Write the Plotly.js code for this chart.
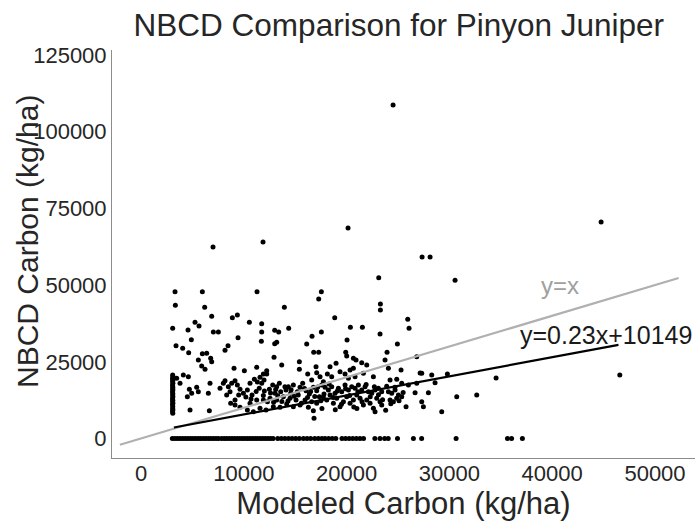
<!DOCTYPE html>
<html><head><meta charset="utf-8">
<script src="https://cdn.plot.ly/plotly-3.0.1.min.js"></script>
<style>html,body{margin:0;padding:0;background:#fff}</style>
</head><body><div id="chart" style="width:698px;height:521px"></div>
<script>
// Modeled carbon (x) and NBCD carbon (y), kg/ha
const modeledCarbon = [
  24520, 7006, 11871, 20141, 27341, 28120, 44758,
  3308, 5968, 11286, 17545, 17286, 3341, 6195, 13945, 6876, 9373,
  8886, 5254, 5643, 10540, 3081, 4573, 11740, 14367, 7038, 7524,
  11740, 13005, 13394, 17545, 16637, 4897, 9438, 11708, 13005, 13200,
  16118, 3406, 4054, 4638, 8465, 8173, 5968, 6389, 16799, 17286,
  23125, 30551, 23287, 23287, 18844, 25946, 26076, 20368, 21536, 23254,
  20044, 24941, 19914, 23935,
  6778, 6876, 5578, 5903, 6227, 9048, 10054, 11254, 12227, 11902,
  12940, 13686, 15405, 15405, 17026, 17091, 16216, 17415, 17740,
  3080, 3100, 3070, 3090, 3080, 3100, 3070, 3090, 3080, 3100, 3070, 3090,
  3080, 3100, 3070, 3090, 3080, 3100, 3070, 3090, 3080, 3100, 3070, 3090,
  3470, 4119, 4606, 3795, 4703, 4930, 5416, 5578, 4508, 4768,
  6714, 6649, 6551, 7686, 8011, 8173, 8497, 8659, 8335, 8821,
  9146, 9373, 9632, 9502, 9146, 8724, 9957, 10346, 10605, 11027,
  11319, 11578, 11740, 11967, 12227, 12486, 12810, 13037, 13200, 13459,
  13589, 13848, 14108, 14335, 14562, 14821, 15080, 15210, 15470, 15729,
  16053, 16378, 16605, 16767, 17091, 17350, 9146, 9632, 10346, 10929,
  11578, 12162, 12875, 13524, 14173, 14821, 15470, 15956, 16281, 16767,
  16832, 12551, 13200, 11902, 11254, 10605, 14497, 16605, 17091,
  10200, 10800, 11200, 11500, 11900, 12300, 12600, 12900, 13300, 13700,
  14000, 14300, 14600, 14900, 15300, 15600, 15900, 16200, 16500, 16900,
  17200, 17500, 10700, 12000, 13100,
  20011, 20660, 20919, 21471, 21957, 23741, 24065, 25297, 26822, 18390,
  18974, 18130, 18552, 19363, 19849, 20336, 20660, 20174, 20822, 21633,
  22606, 24227, 24876, 25362, 26011, 26822, 27308, 28281, 28605, 29805,
  17579, 17903, 18228, 18552, 18876, 19201, 19525, 19849, 20174, 20498,
  20822, 21146, 21471, 21795, 22119, 22444, 22768, 23092, 23417,
  17741, 18066, 18390, 18714, 19039, 19363, 19687, 20011, 20336, 20660,
  20984, 21309, 21633, 21957, 22282, 22606, 22930, 23255, 22768, 23417,
  24065, 24389, 24714, 25038, 25362, 24227, 24551, 24876, 25784, 26660,
  27308, 27470, 27957, 29254, 30713, 32659, 34540, 46575, 27150,
  17800, 18300, 18700, 19100, 19500, 19900, 20300, 20700, 21100, 21500,
  21900, 22300, 22700, 23100, 23500, 23900, 24300, 24700, 25100, 25500,
  17600, 18900, 21000, 23800
];
const nbcdCarbon = [
  108720, 62430, 64060, 68620, 59170, 59170, 70580,
  47860, 47860, 47860, 47860, 45470, 43410, 42760, 42760, 39820, 40255,
  39385, 37864, 36670, 37864, 35907, 35364, 37430, 35907, 34710, 34710,
  34710, 35254, 34710, 34710, 33300, 32210, 32860, 31670, 30907, 31340,
  30800, 30255, 29385, 27970, 30255, 28730, 27645, 27755, 28080, 28080,
  52430, 51560, 43840, 41885, 39385, 38840, 35907, 36234, 36234, 34060,
  32100, 30800, 28080, 28080,
  26133, 25045, 25590, 23633, 22546, 22870, 22110, 23200, 22110, 21024,
  26460, 23960, 25045, 22546, 23415, 21460, 21024, 20154, 18524,
  20700, 20200, 19600, 19000, 18500, 18000, 17400, 16700, 16200, 15800, 15200, 14700,
  14200, 13600, 13000, 12500, 12000, 11500, 11000, 10400, 9800, 9300, 8800, 8200,
  19610, 20698, 20154, 17980, 16023, 14720, 16676, 15263, 13632, 9284,
  17980, 9066, 14720, 16350, 17980, 18850, 16893, 15263, 14176, 17980,
  18850, 17436, 16023, 14176, 12545, 11458, 14720, 15806, 17980, 19284,
  18415, 19936, 17980, 19067, 21024, 16023, 17436, 14720, 16893, 17980,
  15263, 13632, 15806, 16893, 14720, 17436, 12545, 15263, 16676, 17980,
  15589, 14502, 19067, 16676, 15589, 13632, 10915, 10154, 9284, 8740,
  9828, 9284, 10371, 10154, 11240, 10371, 10915, 12545, 10154, 9066,
  6566, 13090, 12545, 12545, 12545, 11458, 13090, 12000, 11458,
  13500, 14200, 15300, 16400, 14000, 12000, 14800, 11800, 13900, 12100,
  16900, 12200, 15900, 13800, 14200, 11500, 16300, 13400, 15300, 13700,
  16800, 12300, 12900, 15500, 16000,
  26893, 26133, 25590, 24720, 23960, 25590, 22870, 22330, 26676, 23415,
  24502, 21024, 20154, 21785, 21024, 22330, 22870, 19610, 20154, 21240,
  20154, 19067, 19284, 17980, 17436, 17980, 21240, 20698, 18197, 21024,
  17436, 16676, 15806, 16893, 14720, 16350, 15263, 17436, 15806, 16893,
  16350, 17436, 15806, 16893, 15263, 14720, 15806, 16350, 15263,
  13632, 12545, 14176, 11458, 13090, 10371, 12000, 13632, 11458, 12545,
  14176, 13090, 10915, 12545, 11458, 9828, 13090, 12000, 8740, 10915,
  15263, 14720, 15806, 14176, 13632, 12545, 12000, 13090, 10371, 14937,
  12000, 10371, 14937, 8740, 13632, 14176, 19720, 20700, 21350,
  14500, 17800, 13400, 15500, 11200, 16200, 14000, 10300, 15200, 12000,
  17600, 13600, 16900, 14300, 12600, 17000, 11300, 16700, 12300, 15000,
  9800, 9400, 9800, 9200
];
// Plots where NBCD reports zero carbon
const zeroRowModeled = [
  3050, 3300, 3550, 3800, 4050, 4300, 4550, 4800, 5050, 5300,
  5550, 5800, 6050, 6300, 6550, 6800, 7050, 7300, 7550, 7850,
  8100, 8350, 8600, 8850, 9100, 9350, 9600, 9850, 10100, 10350,
  10600, 10850, 11100, 11350, 11600, 11850, 12100, 12350, 12600, 12850,
  13300, 13650, 14000, 14350, 14700, 15050, 15400, 15800, 16150, 16500,
  16900, 17250, 17600, 17900, 18250, 18600, 18950, 19550, 19900, 20250,
  20600, 20950, 21300, 21650, 22750, 23250, 23700, 24050, 24950, 26500,
  27300, 30650, 35650, 36050, 37100
];
const zeroRowNbcd = [
  0, 0, 0, 0, 0, 0, 0, 0, 0, 0,
  0, 0, 0, 0, 0, 0, 0, 0, 0, 0,
  0, 0, 0, 0, 0, 0, 0, 0, 0, 0,
  0, 0, 0, 0, 0, 0, 0, 0, 0, 0,
  0, 0, 0, 0, 0, 0, 0, 0, 0, 0,
  0, 0, 0, 0, 0, 0, 0, 0, 0, 0,
  0, 0, 0, 0, 0, 0, 0, 0, 0, 0,
  0, 0, 0, 0, 0
];
const refLineX = [-2050, 52300];
const refLineY = [-2050, 52300];
const fitLineX = [3200, 46450];
const fitLineY = [3600, 30500];
const xTickVals = [0, 10000, 20000, 30000, 40000, 50000];
const xTickText = ["0", "10000", "20000", "30000", "40000", "50000"];
const yTickVals = [0, 25000, 50000, 75000, 100000, 125000];
const yTickText = ["0", "25000", "50000", "75000", "100000", "125000"];

const FONT = "Liberation Sans, Arial, Helvetica, sans-serif";

const traces = [
  {x: modeledCarbon, y: nbcdCarbon, type: 'scatter', mode: 'markers',
   marker: {color: '#000', size: 5}, showlegend: false},
  {x: zeroRowModeled, y: zeroRowNbcd, type: 'scatter', mode: 'markers',
   marker: {color: '#000', size: 5}, showlegend: false},
  {x: refLineX, y: refLineY, type: 'scatter', mode: 'lines',
   line: {color: '#b0b0b0', width: 2.2}, showlegend: false},
  {x: fitLineX, y: fitLineY, type: 'scatter', mode: 'lines',
   line: {color: '#000', width: 2.2}, showlegend: false}
];

const layout = {
  width: 698, height: 521,
  margin: {l: 112, r: 3, t: 50, b: 63},
  paper_bgcolor: '#fff', plot_bgcolor: '#fff',
  font: {family: FONT, color: '#262626'},
  title: {text: 'NBCD Comparison for Pinyon Juniper', font: {size: 31.5, color: '#262626'},
          xref: 'paper', x: 0.492, xanchor: 'center', yref: 'container', y: 0.953, yanchor: 'middle'},
  xaxis: {range: [-2821, 53891], tickvals: xTickVals, ticktext: xTickText,
          showgrid: false, zeroline: false, showline: true, linecolor: '#8c8c8c', linewidth: 1,
          ticks: '', ticklabelstandoff: -4, tickfont: {size: 22, color: '#262626'},
          title: {text: 'Modeled Carbon (kg/ha)', font: {size: 31, color: '#262626'}, standoff: 6}},
  yaxis: {range: [-6357, 126650], tickvals: yTickVals, ticktext: yTickText,
          showgrid: false, zeroline: false, showline: true, linecolor: '#8c8c8c', linewidth: 1,
          ticks: '', tickfont: {size: 22, color: '#262626'}},
  annotations: [
    {xref: 'paper', yref: 'paper', x: (27 - 112) / 583, y: (458 - 242) / 408,
     text: 'NBCD Carbon (kg/ha)', textangle: -90, showarrow: false,
     font: {size: 30, color: '#262626'}, xanchor: 'center', yanchor: 'middle'},
    {x: 40770, y: 50040, xref: 'x', yref: 'y', text: 'y=x', showarrow: false,
     font: {size: 24, color: '#a0a0a0'}, xanchor: 'center', yanchor: 'middle'},
    {x: 45240, y: 33740, xref: 'x', yref: 'y', text: 'y=0.23x+10149', showarrow: false,
     font: {size: 25, color: '#1a1a1a'}, xanchor: 'center', yanchor: 'middle'}
  ],
  showlegend: false
};

Plotly.newPlot('chart', traces, layout, {displayModeBar: false, staticPlot: true});
</script>
</body></html>
